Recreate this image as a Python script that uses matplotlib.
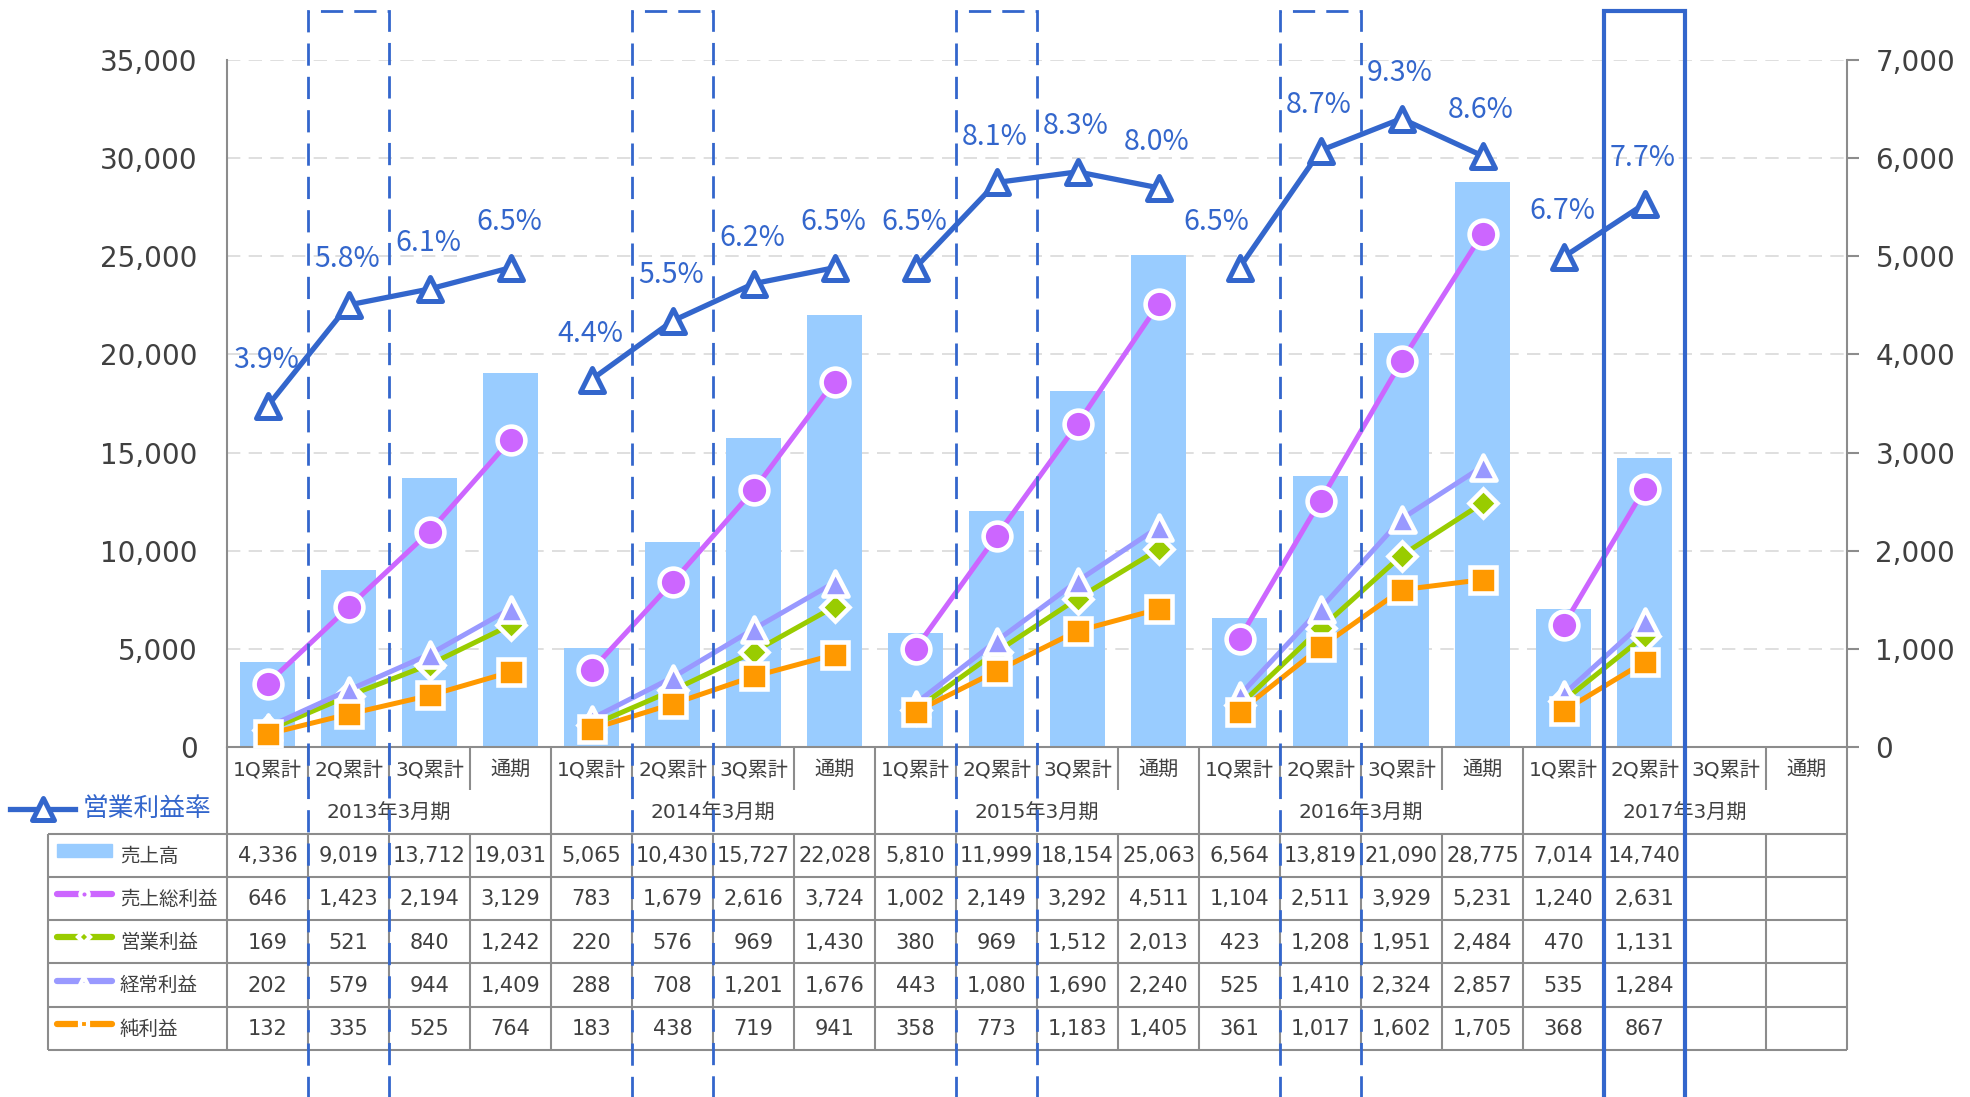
import numpy as np
import matplotlib
matplotlib.use("Agg")
import matplotlib.pyplot as plt
from matplotlib.markers import MarkerStyle
from matplotlib.patches import Rectangle
from matplotlib import transforms
from matplotlib.ticker import FuncFormatter

plt.rcParams['font.family'] = ['DejaVu Sans', 'Noto Sans CJK JP']

years = ['2013年3月期', '2014年3月期', '2015年3月期', '2016年3月期', '2017年3月期']
quarters = ['1Q累計', '2Q累計', '3Q累計', '通期']

sales = [4336, 9019, 13712, 19031, 5065, 10430, 15727, 22028,
         5810, 11999, 18154, 25063, 6564, 13819, 21090, 28775,
         7014, 14740, None, None]
gross = [646, 1423, 2194, 3129, 783, 1679, 2616, 3724,
         1002, 2149, 3292, 4511, 1104, 2511, 3929, 5231,
         1240, 2631, None, None]
op_profit = [169, 521, 840, 1242, 220, 576, 969, 1430,
             380, 969, 1512, 2013, 423, 1208, 1951, 2484,
             470, 1131, None, None]
ordinary = [202, 579, 944, 1409, 288, 708, 1201, 1676,
            443, 1080, 1690, 2240, 525, 1410, 2324, 2857,
            535, 1284, None, None]
net = [132, 335, 525, 764, 183, 438, 719, 941,
       358, 773, 1183, 1405, 361, 1017, 1602, 1705,
       368, 867, None, None]
op_rate = [3.9, 5.8, 6.1, 6.5, 4.4, 5.5, 6.2, 6.5,
           6.5, 8.1, 8.3, 8.0, 6.5, 8.7, 9.3, 8.6,
           6.7, 7.7, None, None]

BLUE = '#3366CC'
GRAY = '#8C8C8C'
TXT = '#404040'

W, H = 1970, 1097
fig = plt.figure(figsize=(W / 100, H / 100), dpi=100)
L, R, T, B = 227, 1847, 60, 747
ax = fig.add_axes([L / W, 1 - B / H, (R - L) / W, (B - T) / H])

n = len(sales)
x = np.arange(n)
s = np.array(sales, dtype=float)
ok = ~np.isnan(s)
ax.bar(x[ok], s[ok], width=0.67, color='#99CCFF', zorder=2)
ax.set_xlim(-0.5, n - 0.5)
ax.set_ylim(0, 35000)
ax.set_yticks(range(0, 35001, 5000))
ax.yaxis.set_major_formatter(FuncFormatter(lambda v, p: f'{int(v):,}'))
ax.set_xticks([])
ax.grid(axis='y', color='#D9D9D9', lw=1.2, ls=(0, (8, 5)))
ax.set_axisbelow(True)
for sp in ['top', 'right']:
    ax.spines[sp].set_visible(False)
for sp in ['left', 'bottom']:
    ax.spines[sp].set_color(GRAY)
    ax.spines[sp].set_linewidth(1.5)
ax.tick_params(axis='y', length=0, pad=21, labelsize=20, labelcolor=TXT)

# profit lines, right axis
ax2 = ax.twinx()
ax2.set_ylim(0, 7000)
ax2.set_yticks(range(0, 7001, 1000))
ax2.yaxis.set_major_formatter(FuncFormatter(lambda v, p: f'{int(v):,}'))
for sp in ['top', 'left', 'bottom']:
    ax2.spines[sp].set_visible(False)
ax2.spines['right'].set_color(GRAY)
ax2.spines['right'].set_linewidth(1.5)
ax2.tick_params(axis='y', length=8.5, width=1.5, color=GRAY, pad=12,
                labelsize=20, labelcolor=TXT)

series = [
    (gross, '#CC66FF', 'o', 20),
    (op_profit, '#99CC00', 'D', 14),
    (ordinary, '#9999FF', MarkerStyle('^', joinstyle='round'), 18),
    (net, '#FF9900', 's', 19),
]
for vals, col, mk, ms in series:
    v = np.array(vals, dtype=float)
    for k in range(len(years)):
        sl = slice(4 * k, 4 * k + 4)
        ax2.plot(x[sl], v[sl], color=col, lw=3.6, marker=mk, ms=ms, mfc=col,
                 mec='white', mew=3.3, solid_capstyle='round', zorder=3)

# operating margin, hidden axis
ax3 = ax.twinx()
ax3.set_ylim(-2.5, 10.4)
ax3.axis('off')
r = np.array(op_rate, dtype=float)
for k in range(len(years)):
    sl = slice(4 * k, 4 * k + 4)
    ax3.plot(x[sl], r[sl], color=BLUE, lw=3.8,
             marker=MarkerStyle('^', joinstyle='round'), ms=17,
             mfc='white', mec=BLUE, mew=3.6)
nudge = {12: -17}
for i, v in enumerate(op_rate):
    if v is None:
        continue
    ax3.annotate(f'{v:.1f}%', (x[i], v), xytext=(nudge.get(i, -1), 33),
                 textcoords='offset points', ha='center', va='center',
                 fontsize=20.5, color=BLUE, family=['Noto Sans CJK JP'])

# data table under the chart
TB = 1050
axt = fig.add_axes([L / W, 1 - TB / H, (R - L) / W, (TB - B) / H])
axt.set_xlim(-0.5, n - 0.5)
axt.set_ylim(7, 0)
axt.axis('off')
colw = (R - L) / n


def px2x(px):
    return -0.5 + (px - L) / colw


xl = px2x(48)
lk = dict(color=GRAY, lw=1.5, clip_on=False, solid_capstyle='butt')
for yy in range(2, 8):
    axt.plot([xl, n - 0.5], [yy, yy], **lk)
axt.plot([xl, xl], [2, 7], **lk)
for j in range(n + 1):
    b = -0.5 + j
    axt.plot([b, b], [2, 7], **lk)
    axt.plot([b, b], [0, 2 if j % 4 == 0 else 1], **lk)

for i in range(n):
    axt.text(i, 0.52, quarters[i % 4], ha='center', va='center',
             fontsize=14.5, color=TXT)
for k, yl in enumerate(years):
    axt.text(4 * k + 1.5, 1.52, yl, ha='center', va='center',
             fontsize=14.5, color=TXT)

rows = [('売上高', sales), ('売上総利益', gross), ('営業利益', op_profit),
        ('経常利益', ordinary), ('純利益', net)]
for ri, (name, vals) in enumerate(rows):
    yc = 2.5 + ri
    for i, v in enumerate(vals):
        if v is not None:
            axt.text(i, yc + 0.02, f'{v:,}', ha='center', va='center',
                     fontsize=15, color=TXT)
    axt.text(px2x(120), yc + 0.02, name, ha='left', va='center',
             fontsize=14, color=TXT, clip_on=False)

k0, k1 = px2x(57), px2x(112)
axt.add_patch(Rectangle((k0, 2.5 - 0.27), k1 - k0, 0.3, color='#99CCFF',
                        clip_on=False))
for ri, (vals, col, mk, ms) in enumerate(series):
    yk = 3.5 + ri - 0.1
    axt.plot([k0, k1], [yk, yk], color=col, lw=4.5, solid_capstyle='round',
             clip_on=False)
    axt.plot([(k0 + k1) / 2], [yk], marker=mk, ms=6, mfc=col, mec='white',
             mew=3, clip_on=False)

# legend for the operating margin line
yleg = (809 - B) / ((TB - B) / 7)
axt.plot([px2x(10), px2x(75)], [yleg, yleg], color=BLUE, lw=3.8,
         clip_on=False)
axt.plot([px2x(43)], [yleg], marker=MarkerStyle('^', joinstyle='round'),
         ms=16, mfc='white', mec=BLUE, mew=3.6, clip_on=False)
axt.text(px2x(83), yleg, '営業利益率', ha='left', va='center', fontsize=18.5,
         color=BLUE, clip_on=False)

# highlight boxes around the 2Q columns
bt = transforms.blended_transform_factory(ax.transData, fig.transFigure)
top = 1 - 11 / H
for k in range(4):
    axt.add_patch(Rectangle((4 * k + 0.5, -0.1), 1, top + 0.1, transform=bt,
                            fill=False, ec=BLUE, lw=2, ls=(0, (8, 4)),
                            clip_on=False, zorder=10))
axt.add_patch(Rectangle((16.5, -0.1), 1, top + 0.1, transform=bt,
                        fill=False, ec=BLUE, lw=3, clip_on=False, zorder=10))

fig.savefig('out.png', dpi=100)
